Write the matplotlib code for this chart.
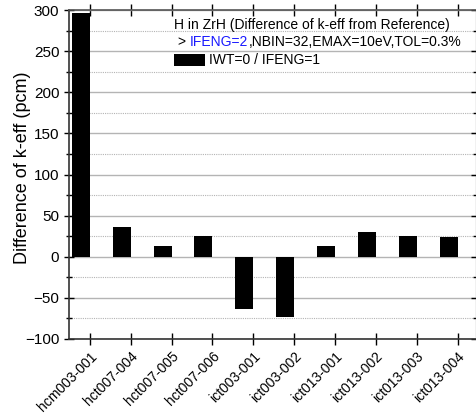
import numpy as np
import matplotlib
matplotlib.use("Agg")
from matplotlib import pyplot as plt
from matplotlib.ticker import MultipleLocator
from matplotlib.patches import Patch
import matplotlib.transforms as mtransforms

plt.rcParams['font.family'] = ['Liberation Sans', 'DejaVu Sans']

cases = ["hcm003-001", "hct007-004", "hct007-005", "hct007-006", "ict003-001",
         "ict003-002", "ict013-001", "ict013-002", "ict013-003", "ict013-004"]
diff_pcm = [297, 36.5, 12.5, 25.5, -63, -73, 13.5, 30.5, 25.5, 23.5]

TITLE_1 = "H in ZrH (Difference of k-eff from Reference)"
LABEL = "IWT=0 / IFENG=1"

fig = plt.figure(figsize=(4.76, 4.2), dpi=100)
ax = fig.add_axes([0.145, 0.193, 0.855, 0.783])

x = np.arange(len(cases))
bar_w = 0.44
ax.bar(x - bar_w / 2, diff_pcm, width=bar_w, color="black", zorder=3)

ax.set_xlim(-0.51, 9.45)
ax.set_ylim(-100, 300)
ax.yaxis.set_major_locator(MultipleLocator(50))
ax.yaxis.set_minor_locator(MultipleLocator(25))
ax.grid(which="major", axis="y", color="#b4b4b4", lw=1.0, zorder=0)
ax.grid(which="minor", axis="y", color="#b4b4b4", lw=0.8, ls=(0, (1, 1)), zorder=0)

ax.set_xticks(x)
ax.set_xticklabels(cases, rotation=45, ha="right", rotation_mode="anchor")
offset = mtransforms.ScaledTranslation(13.5 / 72, -10 / 72, fig.dpi_scale_trans)
for lab in ax.get_xticklabels():
    lab.set_transform(lab.get_transform() + offset)

ax.tick_params(axis="x", direction="inout", length=8, width=1, top=True, labelsize=10)
ax.tick_params(axis="y", which="major", direction="inout", length=7, width=1, right=True, labelsize=11)
ax.tick_params(axis="y", which="minor", direction="inout", length=4, width=1, right=True)
for s in ["left", "bottom"]:
    ax.spines[s].set_linewidth(1.2)
    ax.spines[s].set_color("#333333")
ax.spines["top"].set_color("#555555")
ax.spines["top"].set_linewidth(1.2)

ax.set_ylabel("Difference of k-eff (pcm)", fontsize=13)
ax.yaxis.set_label_coords(-0.093, 0.52)

fs = 10
ax.text(0.258, 0.954, TITLE_1, transform=ax.transAxes, fontsize=fs, va="center")
t1 = ax.text(0.268, 0.903, "> ", transform=ax.transAxes, fontsize=fs, va="center")
t2 = ax.annotate("IFENG=2", xycoords=t1, xy=(1, 0), va="bottom", fontsize=fs, color="#1a1aff")
ax.annotate(",NBIN=32,EMAX=10eV,TOL=0.3%", xycoords=t2, xy=(1, 0), va="bottom", fontsize=fs)

ax.legend(handles=[Patch(facecolor="black", label=LABEL)], loc="upper left",
          bbox_to_anchor=(0.245, 0.885), frameon=False, fontsize=fs,
          handlelength=2.2, handleheight=0.95, handletextpad=0.3, borderaxespad=0)

fig.savefig("out.png", dpi=100)
